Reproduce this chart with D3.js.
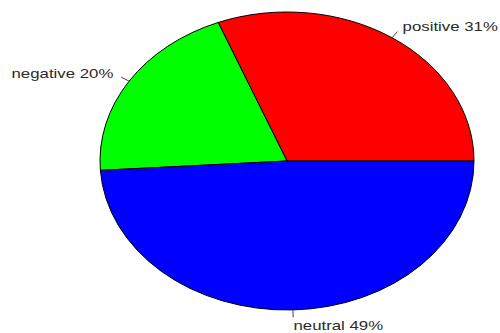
<!DOCTYPE html>
<html>
<head>
<meta charset="utf-8">
<script src="https://cdn.jsdelivr.net/npm/d3@7"></script>
<style>
  html, body { margin: 0; padding: 0; background: #fff; }
  svg { display: block; }
</style>
</head>
<body>
<svg id="chart" width="500" height="333"></svg>
<script>
// Sentiment shares (percent)
const categories = ["positive", "negative", "neutral"];
const shares = [31, 20, 49];
const sliceColors = ["#FF0000", "#00FF00", "#0000FF"];

const width = 500, height = 333;
const cx = 287, cy = 161;
const radius = 149;          // vertical radius
const xStretch = 187 / 149;  // plot is stretched horizontally

const svg = d3.select("#chart");
const g = svg.append("g")
  .attr("transform", `translate(${cx},${cy}) scale(${xStretch},1)`);

// Slices run counter-clockwise from 3 o'clock
const pie = d3.pie()
  .sort(null)
  .value(d => d.value)
  .startAngle(Math.PI / 2)
  .endAngle(Math.PI / 2 - 2 * Math.PI);

const data = categories.map((c, i) => ({ name: c, value: shares[i], color: sliceColors[i] }));
const arcs = pie(data);

const arc = d3.arc().innerRadius(0).outerRadius(radius);

g.selectAll("path.slice")
  .data(arcs)
  .join("path")
  .attr("class", "slice")
  .attr("d", arc)
  .attr("fill", d => d.data.color)
  .attr("stroke", "#000")
  .attr("stroke-width", 1)
  .attr("vector-effect", "non-scaling-stroke");

// Label position helper (d3 angle: 0 at top, clockwise)
function pt(a, r) {
  return [Math.sin(a) * r, -Math.cos(a) * r];
}

arcs.forEach(d => {
  const mid = (d.startAngle + d.endAngle) / 2;
  const p0 = pt(mid, radius);
  const p1 = pt(mid, radius * 1.05);
  const p2 = pt(mid, radius * 1.1);
  g.append("line")
    .attr("x1", p0[0]).attr("y1", p0[1])
    .attr("x2", p1[0]).attr("y2", p1[1])
    .attr("stroke", "#444")
    .attr("stroke-width", 1)
    .attr("vector-effect", "non-scaling-stroke");
  g.append("text")
    .attr("x", p2[0])
    .attr("y", p2[1])
    .attr("dy", "0.38em")
    .attr("text-anchor", p2[0] < 0 ? "end" : "start")
    .attr("font-family", "Liberation Sans, Arial, sans-serif")
    .attr("font-size", 13.4)
    .attr("fill", "#2a2a2a")
    .text(`${d.data.name} ${d.data.value}%`);
});
</script>
</body>
</html>
